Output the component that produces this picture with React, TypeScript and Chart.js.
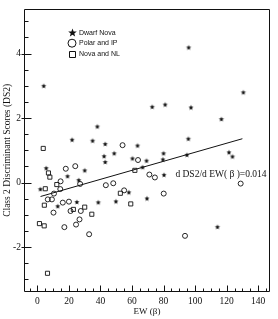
import React, { useEffect, useRef } from 'react';
import { Chart, registerables } from 'chart.js';

Chart.register(...registerables);

// ---- data ----
const dwarfNovaX = [4, 22, 35, 38, 43, 63.5, 42.3, 48.7, 43, 60.3, 69.2, 80, 79.6, 95.9, 130.6, 72.8, 81, 97.4, 116.7, 95.7, 94.8, 121.5, 123.7, 66.7, 80.3, 69.5, 114.2, 58, 49.8, 38.6, 5.6, 19.1, 30, 26.2, 1.9, 12.9, 25];
const dwarfNovaY = [3.0, 1.33, 1.3, 1.74, 1.2, 1.15, 0.82, 0.91, 0.64, 0.75, 0.68, 0.91, 0.72, 4.19, 2.8, 2.35, 2.42, 2.33, 1.97, 1.36, 0.86, 0.94, 0.81, 0.48, 0.24, -0.49, -1.37, -0.3, -0.58, -0.61, 0.45, 0.2, 0.38, 0.08, -0.2, -0.73, -0.6];

const polarX = [54, 63.8, 71, 74.5, 80.1, 93.6, 128.9, 18, 24, 14.7, 27.1, 14.5, 10.5, 6.6, 9.2, 16.1, 20, 10.2, 21, 27.5, 26.7, 24.5, 17.1, 32.8, 43.4, 48.1, 55];
const polarY = [1.16, 0.7, 0.25, 0.16, -0.34, -1.65, -0.03, 0.43, 0.51, 0.04, -0.04, -0.2, -0.34, -0.52, -0.52, -0.62, -0.59, -0.93, -0.88, -0.88, -1.14, -1.3, -1.38, -1.6, -0.08, -0.02, -0.24];

const novaX = [3.7, 7, 7.9, 12.3, 5, 4.4, 22.8, 30, 34.5, 1.3, 4.3, 6.4, 52.6, 59.2, 61.8];
const novaY = [1.06, 0.3, 0.17, -0.06, -0.19, -0.7, -0.83, -0.76, -0.98, -1.27, -1.34, -2.81, -0.33, -0.66, 0.38];

const fitX = [2, 130];
const fitY = [-0.43, 1.36];

const seriesNames = ['Dwarf Nova', 'Polar and IP', 'Nova and NL'];
const xTickLabels = [0, 20, 40, 60, 80, 100, 120, 140];
const yTickLabels = [-2, 0, 2, 4];
const xTitle = 'EW (β)';
const yTitle = 'Class 2 Discriminant Scores (DS2)';
const slopeLabel = 'd DS2/d EW( β )=0.014';

const SERIF = '"Liberation Serif", "Times New Roman", serif';
const SANS = '"Liberation Sans", Arial, sans-serif';
const INK = '#111';

function makeStar(outer: number, inner: number): HTMLCanvasElement {
  const size = Math.ceil(outer * 2) + 2;
  const c = document.createElement('canvas');
  c.width = size;
  c.height = size;
  const g = c.getContext('2d')!;
  const cx = size / 2;
  const cy = size / 2 + outer * 0.1;
  g.beginPath();
  for (let i = 0; i < 10; i++) {
    const r = i % 2 === 0 ? outer : inner;
    const a = -Math.PI / 2 + (i * Math.PI) / 5;
    const px = cx + r * Math.cos(a);
    const py = cy + r * Math.sin(a);
    if (i === 0) g.moveTo(px, py);
    else g.lineTo(px, py);
  }
  g.closePath();
  g.fillStyle = INK;
  g.fill();
  return c;
}

const toPoints = (xs: number[], ys: number[]) => xs.map((x, i) => ({ x, y: ys[i] }));

export default function App() {
  const ref = useRef<HTMLCanvasElement | null>(null);

  useEffect(() => {
    document.body.style.margin = '0';
    const canvas = ref.current;
    if (!canvas) return;

    const starSmall = makeStar(2.7, 1.15);
    const starLegend = makeStar(4.5, 1.9);

    const overlay = {
      id: 'overlay',
      afterDraw(chart: any) {
        const { ctx, chartArea: a, scales } = chart;
        const x = scales.x;
        const y = scales.y;
        ctx.save();
        ctx.strokeStyle = INK;
        ctx.lineWidth = 1;
        const L = Math.round(a.left) + 0.5;
        const T = Math.round(a.top) + 0.5;
        const R = Math.round(a.right) - 0.5;
        const B = Math.round(a.bottom) - 0.5;
        ctx.beginPath();
        ctx.rect(L, T, R - L, B - T);
        ctx.stroke();

        ctx.beginPath();
        for (let v = -5; v <= 145; v += 5) {
          const px = Math.round(x.getPixelForValue(v)) + 0.5;
          const major = v % 20 === 0;
          ctx.moveTo(px, B);
          ctx.lineTo(px, B - (major ? 6 : 3));
        }
        for (let v = -3; v <= 5; v += 0.5) {
          const py = Math.round(y.getPixelForValue(v)) + 0.5;
          const major = v % 2 === 0;
          if (major) {
            ctx.moveTo(L - 3, py);
            ctx.lineTo(L + 7, py);
          } else {
            ctx.moveTo(L, py);
            ctx.lineTo(L + 4, py);
          }
        }
        ctx.stroke();

        // slope annotation
        ctx.fillStyle = INK;
        ctx.font = `9.5px ${SERIF}`;
        ctx.textAlign = 'left';
        ctx.textBaseline = 'middle';
        ctx.fillText(slopeLabel, x.getPixelForValue(87.5), y.getPixelForValue(0.26));

        // legend
        const lx = a.left + 48;
        const ly = a.top + 24;
        const step = 10.5;
        ctx.font = `7px ${SANS}`;
        ctx.drawImage(starLegend, Math.round(lx - starLegend.width / 2), Math.round(ly - starLegend.height / 2));
        ctx.fillText(seriesNames[0], lx + 7, ly);
        ctx.beginPath();
        ctx.arc(lx, ly + step, 4, 0, Math.PI * 2);
        ctx.stroke();
        ctx.fillText(seriesNames[1], lx + 7, ly + step);
        ctx.beginPath();
        ctx.rect(Math.round(lx - 3) + 0.5, Math.round(ly + 2 * step - 3) + 0.5, 6, 6);
        ctx.stroke();
        ctx.fillText(seriesNames[2], lx + 7, ly + 2 * step);
        ctx.restore();
      },
    };

    const chart = new Chart(canvas, {
      type: 'scatter',
      data: {
        datasets: [
          {
            label: seriesNames[0],
            data: toPoints(dwarfNovaX, dwarfNovaY),
            pointStyle: starSmall as any,
            pointRadius: 3,
          },
          {
            label: seriesNames[1],
            data: toPoints(polarX, polarY),
            pointStyle: 'circle',
            pointRadius: 2.5,
            borderColor: INK,
            borderWidth: 0.9,
            backgroundColor: 'rgba(0,0,0,0)',
          },
          {
            label: seriesNames[2],
            data: toPoints(novaX, novaY),
            pointStyle: 'rect',
            pointRadius: 2.9,
            borderColor: INK,
            borderWidth: 0.9,
            backgroundColor: 'rgba(0,0,0,0)',
          },
          {
            type: 'line' as any,
            label: 'fit',
            data: toPoints(fitX, fitY),
            showLine: true,
            borderColor: INK,
            borderWidth: 1,
            pointRadius: 0,
            fill: false,
          } as any,
        ],
      },
      options: {
        animation: false,
        responsive: true,
        maintainAspectRatio: false,
        layout: { padding: { left: 0, right: 8, top: 7, bottom: 0 } },
        plugins: { legend: { display: false }, tooltip: { enabled: false } },
        scales: {
          x: {
            type: 'linear',
            min: -8.5,
            max: 147.5,
            grid: { display: false, drawTicks: false },
            border: { display: false },
            afterBuildTicks: (s: any) => {
              s.ticks = xTickLabels.map((v) => ({ value: v }));
            },
            afterFit: (s: any) => {
              s.height = 27;
            },
            ticks: {
              autoSkip: false,
              maxRotation: 0,
              padding: 4,
              color: INK,
              font: { family: SERIF, size: 9.5 },
            },
            title: {
              display: true,
              text: xTitle,
              color: INK,
              font: { family: SERIF, size: 9 },
              padding: { top: 0, bottom: 1.5 },
            },
          },
          y: {
            type: 'linear',
            min: -3.39,
            max: 5.39,
            grid: { display: false, drawTicks: false },
            border: { display: false },
            afterBuildTicks: (s: any) => {
              s.ticks = yTickLabels.map((v) => ({ value: v }));
            },
            afterFit: (s: any) => {
              s.width = 24;
            },
            ticks: {
              autoSkip: false,
              padding: 3,
              color: INK,
              font: { family: SERIF, size: 9.5 },
            },
            title: {
              display: true,
              text: yTitle,
              color: INK,
              font: { family: SERIF, size: 9.5 },
              padding: { top: 2, bottom: 0 },
            },
          },
        },
      },
      plugins: [overlay],
    });

    return () => chart.destroy();
  }, []);

  return (
    <div style={{ width: 278, height: 319, position: 'relative', overflow: 'hidden' }}>
      <canvas ref={ref} />
    </div>
  );
}
